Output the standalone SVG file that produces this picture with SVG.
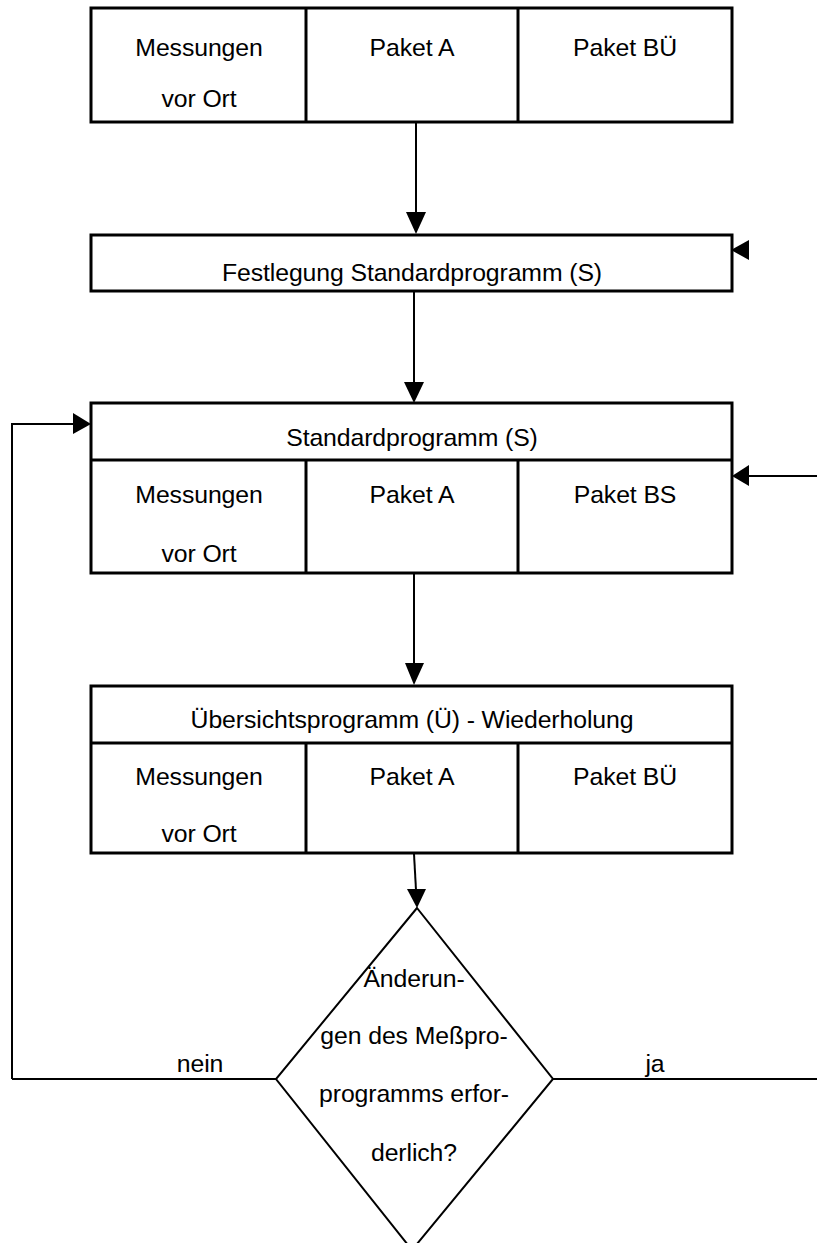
<svg xmlns="http://www.w3.org/2000/svg" width="817" height="1243" viewBox="0 0 817 1243">
<style>
.box{fill:#fff;stroke:#000;stroke-width:3}
.div{stroke:#000;stroke-width:3;fill:none}
.con{stroke:#000;stroke-width:2;fill:none}
.head{fill:#000;stroke:none}
text{font-family:"Liberation Sans",Arial,sans-serif;font-size:24.8px;fill:#000;text-anchor:middle;letter-spacing:-0.1px}
</style>
<g id="connectors">
<line class="con" x1="416" y1="122" x2="416" y2="214"/>
<polygon class="head" points="406,212 426,212 416,234"/>
<polygon class="head" points="749,240 749,260 731,250"/>
<line class="con" x1="414" y1="291" x2="414" y2="384"/>
<polygon class="head" points="404,382 424,382 414,403"/>
<polyline class="con" points="12,1079 12,424 75,424"/>
<polygon class="head" points="73,413 73,434 91,424"/>
<line class="con" x1="817" y1="476" x2="747" y2="476"/>
<polygon class="head" points="749,465 749,486 732,476"/>
<line class="con" x1="414" y1="573" x2="414" y2="665"/>
<polygon class="head" points="405,663 424,663 414,685"/>
<line class="con" x1="414" y1="854" x2="416" y2="890"/>
<polygon class="head" points="407,889 426,889 417,908"/>
<line class="con" x1="12" y1="1079" x2="276" y2="1079"/>
<line class="con" x1="553" y1="1079" x2="817" y2="1079"/>
<text x="200" y="1072">nein</text>
<text x="655" y="1072">ja</text>
</g>
<g id="node-top">
<rect class="box" x="91" y="8" width="641" height="114"/>
<line class="div" x1="306" y1="8" x2="306" y2="122"/>
<line class="div" x1="518" y1="8" x2="518" y2="122"/>
<text x="199" y="56">Messungen</text>
<text x="199" y="107">vor Ort</text>
<text x="412" y="56">Paket A</text>
<text x="625" y="56">Paket BÜ</text>
</g>
<g id="node-festlegung">
<rect class="box" x="91" y="235" width="641" height="56"/>
<text x="412" y="281">Festlegung Standardprogramm (S)</text>
</g>
<g id="node-standard">
<rect class="box" x="91" y="403" width="641" height="170"/>
<line class="div" x1="91" y1="460" x2="732" y2="460"/>
<line class="div" x1="306" y1="460" x2="306" y2="573"/>
<line class="div" x1="518" y1="460" x2="518" y2="573"/>
<text x="412" y="446">Standardprogramm (S)</text>
<text x="199" y="503">Messungen</text>
<text x="199" y="562">vor Ort</text>
<text x="412" y="503">Paket A</text>
<text x="625" y="503">Paket BS</text>
</g>
<g id="node-uebersicht">
<rect class="box" x="91" y="686" width="641" height="167"/>
<line class="div" x1="91" y1="743" x2="732" y2="743"/>
<line class="div" x1="306" y1="743" x2="306" y2="853"/>
<line class="div" x1="518" y1="743" x2="518" y2="853"/>
<text x="412" y="728">Übersichtsprogramm (Ü) - Wiederholung</text>
<text x="199" y="785">Messungen</text>
<text x="199" y="842">vor Ort</text>
<text x="412" y="785">Paket A</text>
<text x="625" y="785">Paket BÜ</text>
</g>
<g id="node-decision">
<polygon points="417,908 276,1079 412,1250 553,1079" fill="#fff" stroke="#000" stroke-width="2"/>
<text x="414" y="987">Änderun-</text>
<text x="414" y="1044">gen des Meßpro-</text>
<text x="414" y="1102">programms erfor-</text>
<text x="414" y="1161">derlich?</text>
</g>
</svg>
